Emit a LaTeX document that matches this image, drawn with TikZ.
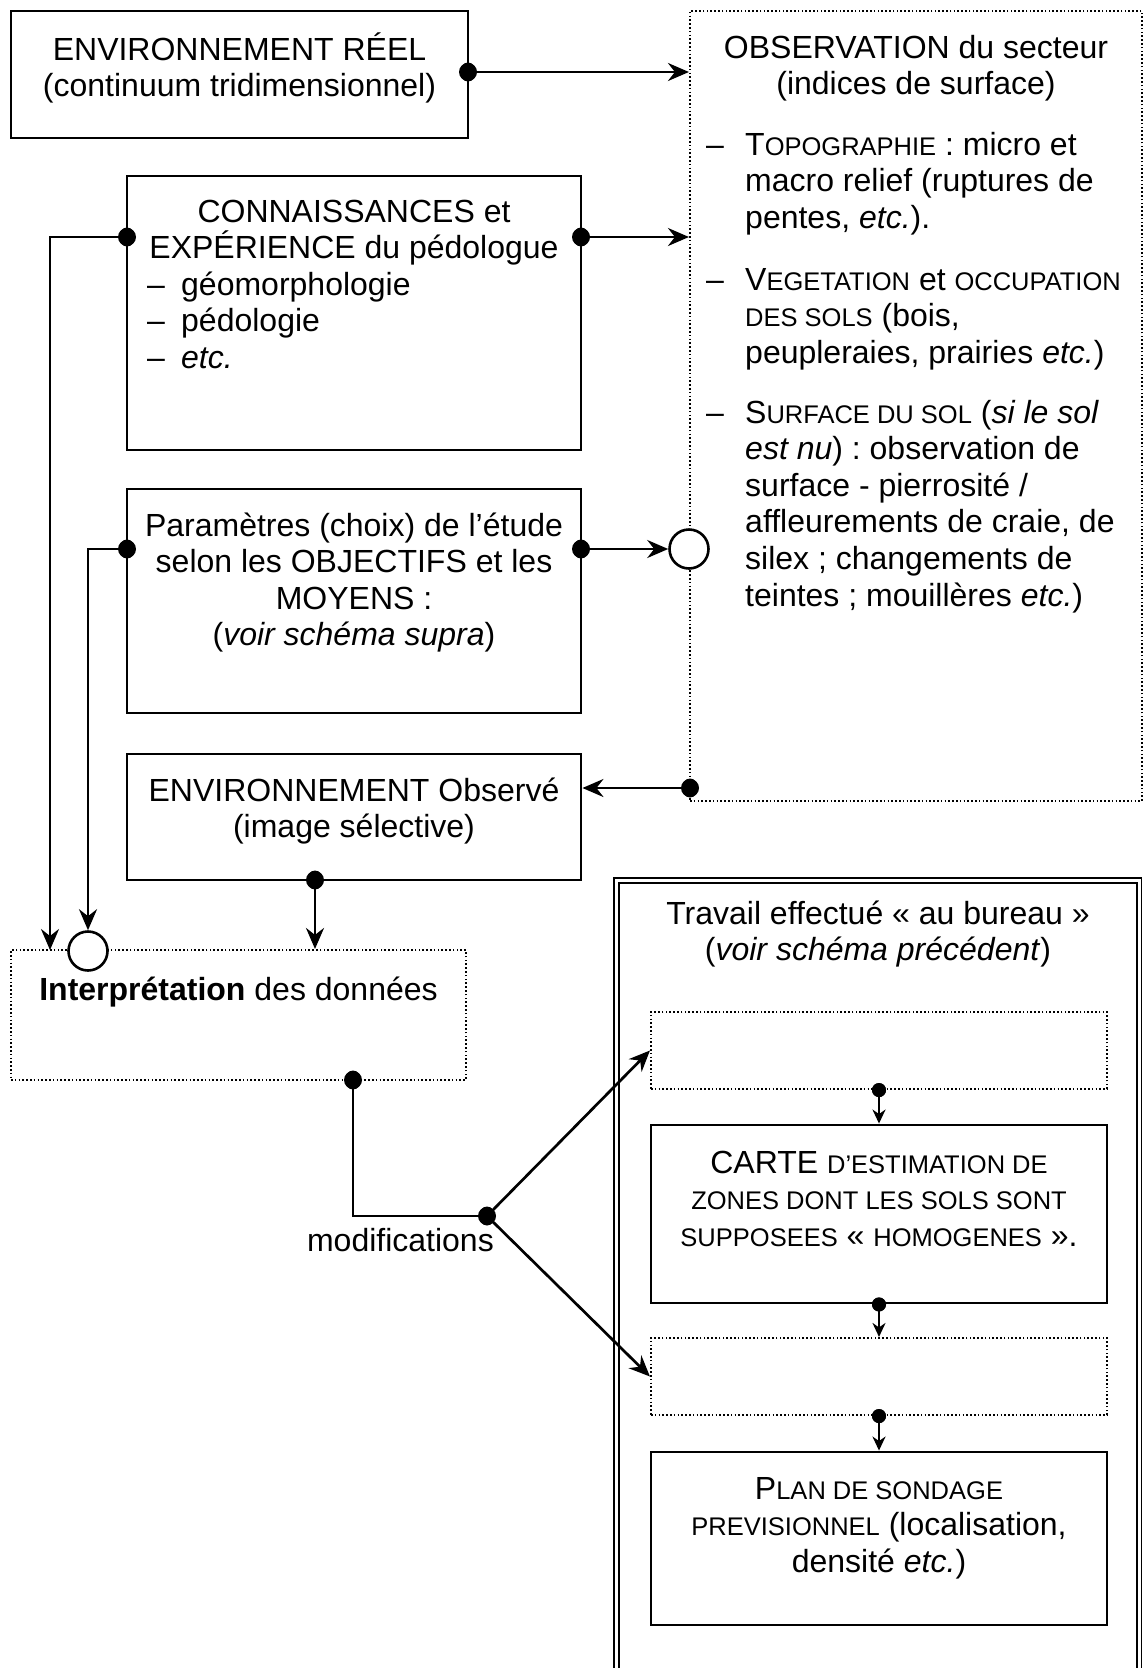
\documentclass[tikz,border=0pt]{standalone}
\usepackage{fontspec}
\setmainfont{Liberation Sans}
\usetikzlibrary{arrows.meta,calc}
\frenchspacing
\newcommand\smc[1]{{\fontsize{25.5}{36.6}\selectfont #1}}
\begin{document}
\begin{tikzpicture}[x=1pt,y=-1pt,
  txt/.style={font=\fontsize{32}{36.6}\selectfont\frenchspacing, inner sep=0pt, align=center, anchor=base},
  txtl/.style={font=\fontsize{32}{36.6}\selectfont\frenchspacing, inner sep=0pt, align=left, anchor=base west},
  solidbox/.style={draw, line width=2.9pt, inner sep=0pt},
  dotbox/.style={draw, line width=2.1pt, dash pattern=on 1.6pt off 2.2pt, inner sep=0pt},
  dotc/.style={circle, fill, inner sep=0pt, minimum size=18pt},
  sdotc/.style={circle, fill, inner sep=0pt, minimum size=14pt},
  openc/.style={circle, draw, line width=2.6pt, fill=white, inner sep=0pt, minimum size=39pt},
  conn/.style={line width=2.7pt},
  arr/.style={conn, -{Stealth[length=21pt,width=18pt,inset=7pt]}},
  sarr/.style={line width=2.3pt, -{Stealth[length=14pt,width=13pt,inset=4.5pt]}},
]
\useasboundingbox (0,0) rectangle (1144,1668);
\clip (0,0) rectangle (1144,1668);

% boxes
\node[solidbox, minimum width=457pt, minimum height=127pt] (envreel) at (239.5,74.5) {};
\node[dotbox, minimum width=452pt, minimum height=790pt] (obs) at (916,406) {};
\node[solidbox, minimum width=454pt, minimum height=274pt] (conn) at (354,313) {};
\node[solidbox, minimum width=454pt, minimum height=224pt] (param) at (354,601) {};
\node[solidbox, minimum width=454pt, minimum height=126pt] (envobs) at (354,817) {};
\node[dotbox, minimum width=455pt, minimum height=130pt] (interp) at (238.5,1015) {};
\node[draw, double, double distance=3pt, line width=1.7pt, inner sep=0pt,
      minimum width=522.5pt, minimum height=839.5pt] (trav) at (877.75,1300.25) {};
\node[dotbox, minimum width=456pt, minimum height=77pt] (dot1) at (879,1050.5) {};
\node[solidbox, minimum width=456pt, minimum height=178pt] (carte) at (879,1214) {};
\node[dotbox, minimum width=456pt, minimum height=77pt] (dot2) at (879,1376.5) {};
\node[solidbox, minimum width=456pt, minimum height=173pt] (plan) at (879,1538.5) {};

% texts (anchor = baseline of the last line)
\node[txt] (t1) at (239.5,96.6) {ENVIRONNEMENT RÉEL\\(continuum tridimensionnel)};
\node[txt] (t2) at (916,94.6) {OBSERVATION du secteur\\(indices de surface)};
\node[txtl] (dash1) at (706,155) {–};
\node[txtl] (it1) at (745,228.2) {T\smc{OPOGRAPHIE} : micro et\\macro relief (ruptures de\\pentes, \textit{etc.}).};
\node[txtl] (dash2) at (706,290) {–};
\node[txtl] (it2) at (745,363.2) {V\smc{EGETATION} et \smc{OCCUPATION}\\\smc{DES SOLS} (bois,\\peupleraies, prairies \textit{etc.})};
\node[txtl] (dash3) at (706,423) {–};
\node[txtl] (it3) at (745,606) {S\smc{URFACE DU SOL} (\textit{si le sol}\\\textit{est nu}) : observation de\\surface - pierrosité /\\affleurements de craie, de\\silex ; changements de\\teintes ; mouillères \textit{etc.})};
\node[txt] (t3) at (354,258.6) {CONNAISSANCES et\\EXPÉRIENCE du pédologue};
\node[txtl] (dash4) at (147,368.4) {–\\–\\–};
\node[txtl] (t4) at (181,368.4) {géomorphologie\\pédologie\\\textit{etc.}};
\node[txt] (t5) at (354,645.8) {Paramètres (choix) de l’étude\\selon les OBJECTIFS et les\\MOYENS :\\(\textit{voir schéma supra})};
\node[txt] (t6) at (354,837.6) {ENVIRONNEMENT Observé\\(image sélective)};
\node[txt] (t7) at (238.5,1000) {\textbf{Interprétation} des données};
\node[txt, anchor=base east] (t8) at (494,1251) {modifications};
\node[txt] (t9) at (878,960.6) {Travail effectué « au bureau »\\(\textit{voir schéma précédent})};
\node[txt] (t10) at (879,1246.2) {CARTE \smc{D’ESTIMATION DE}\\\smc{ZONES DONT LES SOLS SONT}\\\smc{SUPPOSEES} « \smc{HOMOGENES} ».};
\node[txt] (t11) at (879,1572.2) {P\smc{LAN DE SONDAGE}\\\smc{PREVISIONNEL} (localisation,\\densité \textit{etc.})};

% junction points
\node[dotc] (d1) at (468,72) {};
\node[dotc] (d2) at (581,237) {};
\node[dotc] (d3) at (127,237) {};
\node[dotc] (d4) at (581,549) {};
\node[dotc] (d5) at (127,549) {};
\node[dotc] (d6) at (690,788) {};
\node[dotc] (d7) at (315,880) {};
\node[dotc] (d8) at (353,1080) {};
\node[dotc] (d9) at (487,1216) {};
\node[sdotc] (s1) at (dot1.south) {};
\node[sdotc] (s2) at (carte.south) {};
\node[sdotc] (s3) at (dot2.south) {};
\node[openc] (o1) at (689,549) {};
\node[openc] (o2) at (88,951) {};
\coordinate (lx1) at (50,950);

% connectors
\draw[arr] (d1.center) -- (d1 -| obs.west);
\draw[arr] (d2.center) -- (d2 -| obs.west);
\draw[arr] (d3.center) -| (lx1);
\draw[arr] (d4.center) -- (o1.west);
\draw[arr] (d5.center) -| (o2.north);
\draw[arr] (d6.center) -- (d6 -| envobs.east);
\draw[arr] (d7.center) -- (d7 |- interp.north);
\draw[conn] (d8.center) |- (d9.center);
\draw[arr] (d9.center) -- (dot1.west);
\draw[arr] (d9.center) -- (dot2.west);
\draw[sarr] (s1.center) -- (carte.north);
\draw[sarr] (s2.center) -- (dot2.north);
\draw[sarr] (s3.center) -- (plan.north);

% redraw dots on top
\foreach \n in {d1,d2,d3,d4,d5,d6,d7,d8,d9}{\fill (\n) ellipse (8pt and 9.5pt);}
\foreach \n in {s1,s2,s3}{\fill (\n) circle (7pt);}
\end{tikzpicture}
\end{document}
